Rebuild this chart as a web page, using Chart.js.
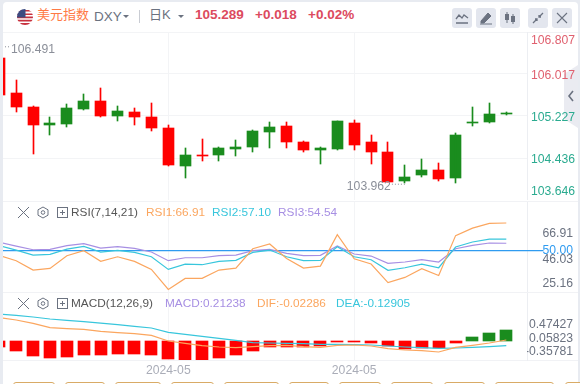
<!DOCTYPE html>
<html lang="zh">
<head>
<meta charset="utf-8">
<title>美元指数 DXY</title>
<script src="https://cdn.jsdelivr.net/npm/chart.js@4/dist/chart.umd.min.js"></script>
<style>
  html, body { margin: 0; padding: 0; }
  body { width: 580px; height: 384px; background: #e8ebf1; overflow: hidden; position: relative;
    font-family: "Liberation Sans", "Noto Sans CJK SC", sans-serif; }
  #panel { position: absolute; left: 3px; top: 2px; width: 575px; height: 382px; background: #fff; border-radius: 4px 4px 0 0; }
  canvas { position: absolute; left: 0; }
  .t { position: absolute; white-space: nowrap; line-height: 16px; }
  .hr { position: absolute; left: 3px; width: 575px; height: 1px; background: #f1f2f5; }
  .btn { position: absolute; top: 8px; width: 20px; height: 20px; background: #e3e6ee; border-radius: 3px; }
  .btn svg, .ic { position: absolute; left: 0; top: 0; }
  .ic { width: 12px; height: 12px; }
  .tab { position: absolute; top: 382px; height: 6px; border: 1px solid #d9ab66; border-radius: 3px; box-sizing: border-box; background: #fff; }
  .caret { position: absolute; width: 0; height: 0; border-left: 3px solid transparent; border-right: 3px solid transparent; border-top: 3px solid #6b7280; }
  #side { position: absolute; left: 564px; top: 65px; width: 14px; height: 63px; background: #eaebf1;
    clip-path: polygon(0 9px, 100% 0, 100% 100%, 0 54px); }
</style>
</head>
<body>
<div id="panel"></div>
<div id="side"></div>
<svg style="position:absolute;left:567px;top:90px" width="8" height="12"><path d="M6 1 L2 6 L6 11" fill="none" stroke="#6b7280" stroke-width="1.6"/></svg>

<!-- header -->
<svg style="position:absolute;left:17px;top:9px" width="16" height="16">
  <defs><clipPath id="flag"><circle cx="8" cy="8" r="8"/></clipPath></defs>
  <g clip-path="url(#flag)">
    <rect width="16" height="16" fill="#fff"/>
    <path d="M0 1h16v1.6H0zM0 4.4h16V6H0zM0 7.6h16v1.6H0zM0 10.8h16v1.6H0zM0 14h16v2H0z" fill="#c8313e"/>
    <rect width="8.5" height="8.5" fill="#3c4a80"/>
  </g>
</svg>
<span class="t" style="left:37px;top:7px;font-size:13px;color:#ff7a45">美元指数</span>
<span class="t" style="left:94px;top:9px;font-size:13.5px;color:#6b7280">DXY</span>
<i class="caret" style="left:123px;top:15px"></i>
<span style="position:absolute;left:139px;top:10px;width:1px;height:13px;background:#c9ccd3"></span>
<span class="t" style="left:149px;top:7px;font-size:13px;color:#6b7280">日K</span>
<i class="caret" style="left:178px;top:15px"></i>
<span class="t" style="left:195px;top:7px;font-size:13.5px;font-weight:bold;color:#dc4a5e">105.289</span>
<span class="t" style="left:255px;top:7px;font-size:13.5px;font-weight:bold;color:#dc4a5e">+0.018</span>
<span class="t" style="left:308px;top:7px;font-size:13.5px;font-weight:bold;color:#dc4a5e">+0.02%</span>
<div class="btn" style="left:452px"><svg width="20" height="20"><path d="M4 11 L7 7 L10 10 L12 7 L16 10 M4 15 H16" fill="none" stroke="#6b7280" stroke-width="1.3"/></svg></div>
<div class="btn" style="left:476px"><svg width="20" height="20"><path d="M5 13 L12 5 L15 8 L8 15 H5Z M4 16 H16" fill="#6b7280" stroke="#6b7280"/></svg></div>
<div class="btn" style="left:500px"><svg width="20" height="20"><path d="M7 4 V15 M13 6 V16" stroke="#6b7280"/><rect x="5" y="6" width="4" height="6" fill="#6b7280"/><rect x="11" y="8" width="4" height="6" fill="#6b7280"/></svg></div>
<div class="btn" style="left:528px"><svg width="20" height="20"><path d="M5 15 L9 11 M11 9 L15 5 M7 11 H9 V13 M11 7 V9 H13" fill="none" stroke="#6b7280" stroke-width="1.3"/></svg></div>
<div class="btn" style="left:552px"><svg width="20" height="20"><path d="M5 5 L15 15 M15 5 L5 15" stroke="#6b7280" stroke-width="1.1"/></svg></div>

<div class="hr" style="top:32px"></div>
<div class="hr" style="top:201px"></div>
<div class="hr" style="top:292px"></div>
<div class="hr" style="top:360px"></div>

<canvas id="priceChart" width="580" height="168" style="top:32px"></canvas>
<canvas id="rsiChart" width="580" height="90" style="top:202px"></canvas>
<canvas id="macdChart" width="580" height="85" style="top:293px"></canvas>

<!-- RSI legend -->
<svg style="position:absolute;left:17px;top:206px" width="54" height="13">
  <path d="M1 1 L12 12 M12 1 L1 12" stroke="#6b7280" stroke-width="1"/>
  <path d="M26 1 L31 3.8 V9.2 L26 12 L21 9.2 V3.8Z" fill="none" stroke="#6b7280"/><circle cx="26" cy="6.5" r="1.8" fill="none" stroke="#6b7280"/>
  <rect x="40.5" y="1.5" width="10" height="10" fill="none" stroke="#6b7280"/><path d="M43 6.5 H48 M45.5 4 V9" stroke="#6b7280"/>
</svg>
<span class="t" style="left:71px;top:204px;font-size:11.8px;color:#555">RSI(7,14,21)</span>
<span class="t" style="left:146px;top:204px;font-size:11.8px;color:#fba65f">RSI1:66.91</span>
<span class="t" style="left:212px;top:204px;font-size:11.8px;color:#38c6dc">RSI2:57.10</span>
<span class="t" style="left:278px;top:204px;font-size:11.8px;color:#a78fe3">RSI3:54.54</span>

<!-- MACD legend -->
<svg style="position:absolute;left:17px;top:297px" width="54" height="13">
  <path d="M1 1 L12 12 M12 1 L1 12" stroke="#6b7280" stroke-width="1"/>
  <path d="M26 1 L31 3.8 V9.2 L26 12 L21 9.2 V3.8Z" fill="none" stroke="#6b7280"/><circle cx="26" cy="6.5" r="1.8" fill="none" stroke="#6b7280"/>
  <rect x="40.5" y="1.5" width="10" height="10" fill="none" stroke="#6b7280"/><path d="M43 6.5 H48 M45.5 4 V9" stroke="#6b7280"/>
</svg>
<span class="t" style="left:71px;top:295px;font-size:11.8px;color:#555">MACD(12,26,9)</span>
<span class="t" style="left:165px;top:295px;font-size:11.8px;color:#a78fe3">MACD:0.21238</span>
<span class="t" style="left:257px;top:295px;font-size:11.8px;color:#fba65f">DIF:-0.02286</span>
<span class="t" style="left:336px;top:295px;font-size:11.8px;color:#38c6dc">DEA:-0.12905</span>

<!-- period tabs, cut off by the window -->
<div class="tab" style="left:13px;width:42px"></div>
<div class="tab" style="left:65px;width:40px"></div>
<div class="tab" style="left:115px;width:46px"></div>
<div class="tab" style="left:171px;width:43px"></div>
<div class="tab" style="left:224px;width:55px"></div>
<div class="tab" style="left:289px;width:40px"></div>
<div class="tab" style="left:339px;width:42px"></div>
<div class="tab" style="left:391px;width:42px"></div>
<div class="tab" style="left:444px;width:41px"></div>
<div class="tab" style="left:495px;width:59px"></div>
<div class="tab" style="left:565px;width:30px"></div>

<script>
(() => {
  'use strict'

  // one label per candle, only the two months shown on the axis are named
  const categories = ['', '', '', '', '', '', '', '', '', '', '2024-05', '', '', '', '', '', '', '', '', '', '', '2024-05', '', '', '', '', '', '', '', '', '']

  const opens = [106.323, 105.659, 105.396, 105.063, 105.082, 105.364, 105.509, 105.232, 105.302, 105.208, 105.001, 104.291, 104.493, 104.498, 104.611, 104.649, 104.925, 105.038, 104.737, 104.592, 104.606, 105.095, 104.737, 104.549, 104.009, 104.122, 104.211, 104.066, 105.095, 105.119, 105.271]
  const highs = [106.491, 105.904, 105.420, 105.208, 105.452, 105.640, 105.748, 105.415, 105.377, 105.471, 105.057, 104.624, 104.794, 104.643, 104.775, 104.963, 105.114, 105.114, 104.756, 104.643, 105.132, 105.151, 104.869, 104.737, 104.305, 104.418, 104.342, 104.907, 105.396, 105.471, 105.302]
  const lows = [105.600, 105.302, 104.517, 104.875, 105.025, 105.339, 105.208, 105.132, 105.063, 104.950, 104.286, 104.060, 104.380, 104.386, 104.474, 104.549, 104.624, 104.624, 104.555, 104.323, 104.587, 104.587, 104.323, 103.990, 103.962, 104.084, 104.009, 103.971, 105.044, 105.100, 105.245]
  const closes = [105.622, 105.402, 105.063, 105.100, 105.377, 105.509, 105.232, 105.321, 105.213, 105.006, 104.310, 104.493, 104.474, 104.624, 104.643, 104.944, 105.019, 104.743, 104.592, 104.624, 105.132, 104.687, 104.555, 103.990, 104.079, 104.211, 104.047, 104.869, 105.114, 105.264, 105.289]

  const rsi1 = [47.15, 43.9, 38.2, 39.2, 46.95, 50.0, 43.5, 46.3, 43.5, 38.6, 26.4, 33.1, 33.1, 38.2, 39.4, 51.2, 54.1, 45.3, 39.4, 40.6, 59.8, 45.1, 41.9, 30.5, 33.7, 39.0, 34.9, 59.2, 63.8, 66.7, 66.91]
  const rsi2 = [53.05, 50.4, 47.35, 47.8, 51.0, 52.65, 49.2, 50.2, 49.0, 46.3, 38.6, 41.85, 41.45, 43.5, 44.1, 49.0, 50.4, 46.3, 43.9, 44.1, 52.45, 46.3, 44.5, 38.0, 39.6, 41.85, 39.6, 52.25, 55.3, 57.05, 57.10]
  const rsi3 = [55.1, 52.85, 50.6, 50.8, 53.05, 54.3, 51.6, 52.45, 51.4, 49.2, 43.9, 45.7, 45.7, 46.95, 47.35, 50.0, 50.8, 48.4, 46.95, 47.15, 52.85, 48.0, 46.75, 42.3, 43.1, 44.5, 43.1, 51.2, 53.25, 54.7, 54.54]
  const rsiLevel = 50

  const macdBars = [-0.11, -0.187, -0.29, -0.328, -0.309, -0.27, -0.27, -0.251, -0.251, -0.27, -0.347, -0.367, -0.367, -0.328, -0.27, -0.193, -0.116, -0.116, -0.11, -0.097, -0.019, -0.019, -0.039, -0.097, -0.154, -0.135, -0.135, -0.039, 0.077, 0.154, 0.21238]
  const dif = [0.45, 0.405, 0.341, 0.257, 0.238, 0.225, 0.187, 0.161, 0.142, 0.109, 0, -0.045, -0.09, -0.116, -0.129, -0.109, -0.09, -0.084, -0.109, -0.122, -0.084, -0.077, -0.097, -0.148, -0.174, -0.187, -0.212, -0.122, -0.084, -0.039, 0.019]
  const dea = [0.521, 0.495, 0.463, 0.425, 0.399, 0.373, 0.347, 0.315, 0.283, 0.251, 0.167, 0.129, 0.09, 0.051, 0.013, -0.032, -0.039, -0.045, -0.051, -0.064, -0.064, -0.071, -0.077, -0.097, -0.116, -0.129, -0.142, -0.135, -0.122, -0.109, -0.09]

  const priceTicks = [106.807, 106.017, 105.227, 104.436, 103.646]
  const rsiTicks = [66.91, 50, 46.03, 25.16]
  const macdTicks = [0.47427, 0.05823, -0.35781]

  // the original pushes its tick labels off their real tick, in px
  const priceNudge = [8.5, 1.5, 2, 2, -8]
  const rsiNudge = [11, 0, 2.5, -8]
  const macdNudge = [8.6, 1, -7.8]
  const FAR_LABEL_SHIFT = -7

  const RED = '#ff0000'
  const GREEN = '#1a8c1e'
  const GRID = '#f3f4f6'
  const AXIS_FONT = { family: '"Liberation Sans", sans-serif', size: 12.2 }

  // x window: first candle hangs off the left edge, empty room on the right
  const X_MIN = 0.219
  const X_MAX = 31.225

  const xTickIdx = categories.map((c, i) => (c ? i : -1)).filter(i => i >= 0)
  const points = values => values.map((y, x) => ({ x, y }))
  const isUp = i => closes[i] >= opens[i]
  const candleColor = c => (isUp(c.dataIndex) ? GREEN : RED)

  function xAxis(showLabels) {
    return {
      type: 'linear',
      offset: false,
      min: X_MIN,
      max: X_MAX,
      afterBuildTicks: s => { s.ticks = xTickIdx.map(value => ({ value })) },
      afterFit: s => { s.height = showLabels ? 18 : 0 },
      grid: { color: GRID, drawTicks: false, offset: false },
      border: { display: false },
      ticks: {
        display: showLabels,
        autoSkip: false,
        maxRotation: 0,
        padding: 3,
        color: '#aaadb8',
        font: AXIS_FONT,
        callback: v => categories[v]
      }
    }
  }

  function yAxis(min, max, tickValues, digits, opts) {
    return {
      position: 'right',
      min,
      max,
      afterBuildTicks: s => { s.ticks = tickValues.map(value => ({ value })) },
      afterFit: s => { s.width = 53; s.paddingTop = 0; s.paddingBottom = 0 },
      grid: { color: opts.gridColor || 'transparent', drawTicks: false },
      border: { display: true, color: '#eceef2' },
      ticks: {
        autoSkip: false,
        padding: 4,
        crossAlign: opts.crossAlign,
        color: opts.color,
        font: AXIS_FONT,
        callback: v => v.toFixed(digits)
      }
    }
  }

  // bars sit on whole pixels and the labels move to where the original has them
  const tidyPlugin = (nudge, shiftX = 0) => ({
    id: 'tidy',
    afterDatasetsUpdate(chart) {
      chart.getSortedVisibleDatasetMetas().forEach(meta => {
        if (meta.type !== 'bar') return
        meta.data.forEach(bar => {
          bar.x = bar.width % 2 ? Math.floor(bar.x) + 0.5 : Math.round(bar.x)
          bar.y = Math.round(bar.y)
          bar.base = Math.round(bar.base)
        })
      })
      chart.scales.y.getLabelItems().forEach((item, i) => {
        item.options.translation[0] += shiftX
        item.options.translation[1] += nudge[i]
      })
    }
  })

  // highest and lowest price with their dotted leaders
  const extremesPlugin = {
    id: 'extremes',
    afterDatasetsDraw(chart) {
      const { ctx, scales: { x, y }, chartArea } = chart
      const top = Math.max(...highs)
      const bottom = Math.min(...lows)
      const topX = Math.max(x.getPixelForValue(highs.indexOf(top)), chartArea.left + 2)
      const bottomX = x.getPixelForValue(lows.indexOf(bottom))
      ctx.save()
      ctx.font = '12.2px "Liberation Sans", sans-serif'
      ctx.fillStyle = '#8b8f99'
      ctx.strokeStyle = '#8b8f99'
      ctx.setLineDash([1, 2])
      ctx.textBaseline = 'middle'
      ctx.beginPath()
      ctx.moveTo(topX, y.getPixelForValue(top) - 2)
      ctx.lineTo(topX + 5, y.getPixelForValue(top) - 2)
      ctx.moveTo(bottomX - 13, y.getPixelForValue(bottom) + 1)
      ctx.lineTo(bottomX, y.getPixelForValue(bottom) + 1)
      ctx.stroke()
      ctx.textAlign = 'left'
      ctx.fillText(top.toFixed(3), topX + 6, y.getPixelForValue(top) + 1)
      ctx.textAlign = 'right'
      ctx.fillText(bottom.toFixed(3), bottomX - 14, y.getPixelForValue(bottom) + 3.5)
      ctx.restore()
    }
  }

  const baseOptions = {
    responsive: false,
    animation: false,
    events: [],
    layout: { padding: { left: 3, right: 0, top: 0, bottom: 0 } },
    plugins: { legend: { display: false }, tooltip: { enabled: false } }
  }

  const lineSet = (label, values, color) => ({
    type: 'line',
    label,
    data: points(values),
    borderColor: color,
    borderWidth: 1.2,
    pointRadius: 0,
    tension: 0,
    order: 0
  })

  new Chart(document.getElementById('priceChart'), {
    type: 'bar',
    data: {
      datasets: [
        {
          label: 'high-low',
          data: highs.map((h, x) => ({ x, y: [lows[x], h] })),
          backgroundColor: candleColor,
          grouped: false,
          barPercentage: 1,
          categoryPercentage: 1,
          maxBarThickness: 1
        },
        {
          label: 'open-close',
          data: opens.map((o, x) => ({ x, y: [o, closes[x]] })),
          backgroundColor: candleColor,
          grouped: false,
          barPercentage: 1,
          categoryPercentage: 1,
          maxBarThickness: 11,
          minBarLength: 1
        }
      ]
    },
    options: {
      ...baseOptions,
      scales: {
        x: xAxis(false),
        y: yAxis(103.646, 106.807, priceTicks, 3, {
          gridColor: GRID,
          crossAlign: 'near',
          color: c => (c.tick && c.tick.value > 105.5 ? '#e0606f' : '#2bab90')
        })
      }
    },
    plugins: [tidyPlugin(priceNudge), extremesPlugin]
  })

  new Chart(document.getElementById('rsiChart'), {
    type: 'line',
    data: {
      datasets: [
        lineSet('RSI1', rsi1, '#fba65f'),
        lineSet('RSI2', rsi2, '#38c6dc'),
        lineSet('RSI3', rsi3, '#a78fe3'),
        {
          ...lineSet('level', [], '#2f9bf0'),
          data: [{ x: X_MIN, y: rsiLevel }, { x: 32.2, y: rsiLevel }],
          clip: false
        }
      ]
    },
    options: {
      ...baseOptions,
      scales: {
        x: xAxis(false),
        y: yAxis(24.8, 79.73, rsiTicks, 2, {
          crossAlign: 'far',
          color: c => (c.tick && c.tick.value === rsiLevel ? '#2f9bf0' : '#6b7280')
        })
      }
    },
    plugins: [tidyPlugin(rsiNudge, FAR_LABEL_SHIFT)]
  })

  new Chart(document.getElementById('macdChart'), {
    type: 'bar',
    data: {
      datasets: [
        {
          label: 'MACD',
          data: points(macdBars),
          backgroundColor: c => (macdBars[c.dataIndex] >= 0 ? GREEN : RED),
          grouped: false,
          barPercentage: 1,
          categoryPercentage: 1,
          maxBarThickness: 12,
          order: 1
        },
        lineSet('DIF', dif, '#fba65f'),
        lineSet('DEA', dea, '#38c6dc')
      ]
    },
    options: {
      ...baseOptions,
      scales: {
        x: xAxis(true),
        y: yAxis(-0.367, 0.927, macdTicks, 5, {
          crossAlign: 'far',
          color: '#6b7280'
        })
      }
    },
    plugins: [tidyPlugin(macdNudge, FAR_LABEL_SHIFT)]
  })
})()
</script>
</body>
</html>
